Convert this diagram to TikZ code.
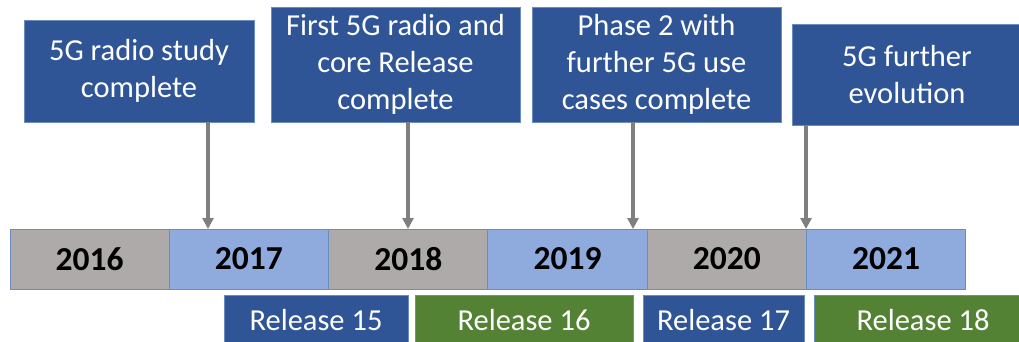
\documentclass[tikz,border=0pt]{standalone}
\usepackage{fontspec}
\setmainfont{Carlito}
\usetikzlibrary{arrows.meta}
\definecolor{dblue}{HTML}{2F5597}
\definecolor{lblue}{HTML}{8FAADC}
\definecolor{ygray}{HTML}{AEAAAA}
\definecolor{rgreen}{HTML}{548235}
\definecolor{edge}{HTML}{6A8CBE}
\definecolor{arr}{HTML}{7F7F7F}
\begin{document}
\begin{tikzpicture}[x=1pt,y=-1pt,
  topbox/.style={fill=dblue,draw=edge,line width=0.9pt,text=white,align=center,
    inner sep=0pt,font=\fontsize{30.5}{37}\selectfont},
  yearbox/.style={draw=edge,line width=0.9pt,minimum width=159.3pt,minimum height=60pt,
    inner sep=0pt,font=\fontsize{33.5}{37}\selectfont\bfseries,text=black},
  relbox/.style={draw=edge,line width=0.9pt,text=white,inner sep=0pt,
    minimum height=50pt,font=\fontsize{30.5}{37}\selectfont},
  conn/.style={draw=arr,line width=3.3pt,-{Triangle[length=11pt,width=11pt]}}]
\useasboundingbox (0,0) rectangle (1019,342);
\clip (0,0) rectangle (1019,342);
% top boxes
\node[topbox,minimum width=230pt,minimum height=102pt] (b1) at (139,71) {5G radio study\\complete};
\node[topbox,minimum width=249pt,minimum height=115pt] (b2) at (395.5,64.5) {First 5G radio and\\core Release\\complete};
\node[topbox,minimum width=249pt,minimum height=115pt] (b3) at (656.5,64.5) {Phase 2 with\\further 5G use\\cases complete};
\node[topbox,minimum width=230pt,minimum height=101pt] (b4) at (907,74.5) {5G further\\evolution};
% years
\node[yearbox,fill=ygray] (y16) at (89.65,259) {2016};
\node[yearbox,fill=lblue] (y17) at (248.95,259) {2017};
\node[yearbox,fill=ygray] (y18) at (408.25,259) {2018};
\node[yearbox,fill=lblue] (y19) at (567.55,259) {2019};
\node[yearbox,fill=ygray] (y20) at (726.85,259) {2020};
\node[yearbox,fill=lblue] (y21) at (886.15,259) {2021};
% releases
\node[relbox,fill=dblue,minimum width=184pt] (r15) at (316,320) {Release 15};
\node[relbox,fill=rgreen,minimum width=218pt] (r16) at (524,320) {Release 16};
\node[relbox,fill=dblue,minimum width=161pt] (r17) at (723.5,320) {Release 17};
\node[relbox,fill=rgreen,minimum width=218pt] (r18) at (923,320) {Release 18};
% arrow targets
\coordinate (a1) at (208,229);
\coordinate (a2) at (408,229);
\coordinate (a3) at (633,229);
\coordinate (a4) at (806,229);
\draw[conn] (b1.south -| a1) -- (a1);
\draw[conn] (b2.south -| a2) -- (a2);
\draw[conn] (b3.south -| a3) -- (a3);
\draw[conn] (b4.south -| a4) -- (a4);
\end{tikzpicture}
\end{document}
